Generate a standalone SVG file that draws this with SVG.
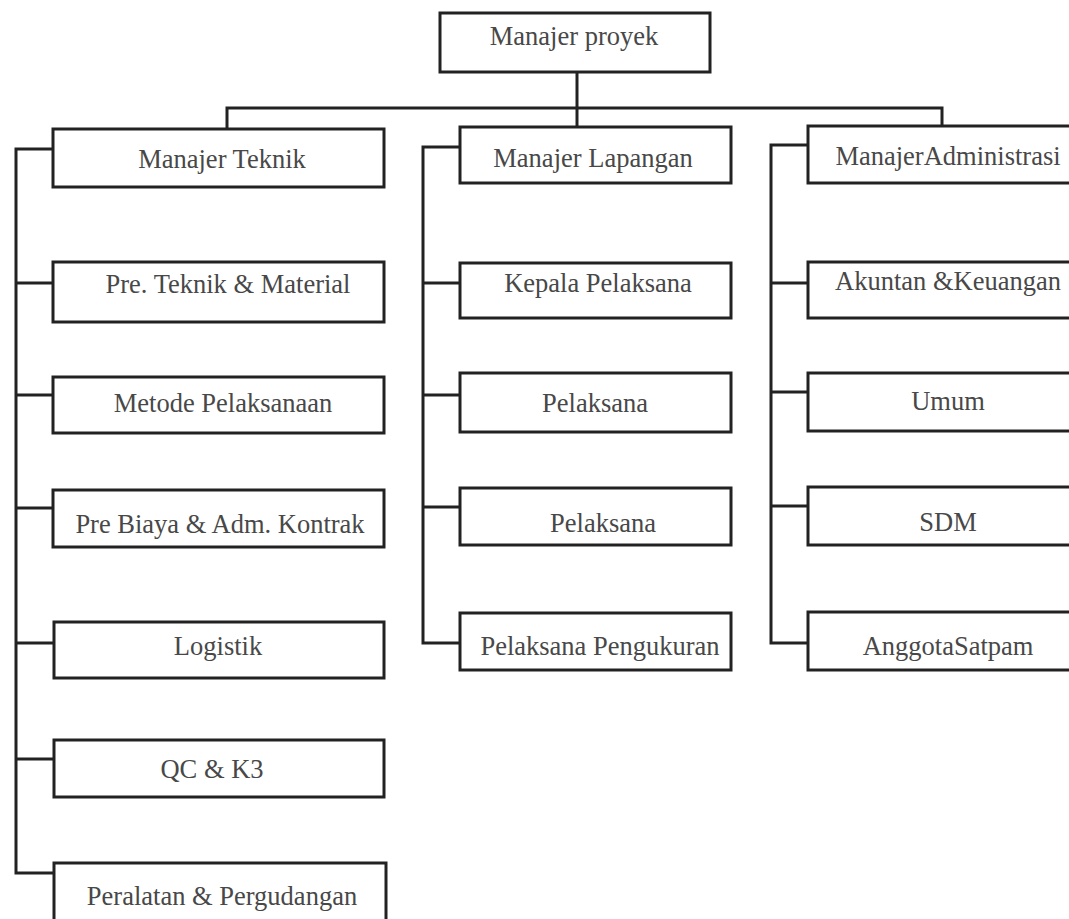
<svg xmlns="http://www.w3.org/2000/svg" width="1069" height="919" viewBox="0 0 1069 919">
<style>
.box{fill:#fff;stroke:#222;stroke-width:3}
.lbl{font-family:"Liberation Serif","Times New Roman",serif;font-size:26.5px;fill:#484848;text-anchor:middle}
.con{fill:none;stroke:#222;stroke-width:3}
</style>
<rect width="1069" height="919" fill="#fff"/>
<g id="connectors">
<path class="con" d="M577,72 V127"/>
<path class="con" d="M227,129 V108 H942 V126"/>
<path class="con" d="M53,149 H16 V873 H54"/>
<path class="con" d="M16,283 H53 M16,395 H53 M16,508 H53 M16,643 H53 M16,759 H53"/>
<path class="con" d="M460,147 H423 V643 H460"/>
<path class="con" d="M423,283 H460 M423,395 H460 M423,507 H460"/>
<path class="con" d="M808,145 H771 V643 H808"/>
<path class="con" d="M771,283 H808 M771,392 H808 M771,506 H808"/>
</g>
<g id="n-proyek"><rect class="box" x="440" y="13" width="270" height="59"/><text class="lbl" x="574" y="45">Manajer proyek</text></g>
<g id="n-teknik"><rect class="box" x="53" y="129" width="331" height="58"/><text class="lbl" x="222" y="168">Manajer Teknik</text></g>
<g id="n-lapangan"><rect class="box" x="460" y="127" width="271" height="56"/><text class="lbl" x="593" y="167">Manajer Lapangan</text></g>
<g id="n-admin"><rect class="box" x="808" y="126" width="275" height="57"/><text class="lbl" x="948" y="165">ManajerAdministrasi</text></g>
<g id="n-pre-teknik"><rect class="box" x="53" y="262" width="331" height="60"/><text class="lbl" x="228" y="293">Pre. Teknik &amp; Material</text></g>
<g id="n-metode"><rect class="box" x="53" y="377" width="331" height="56"/><text class="lbl" x="223" y="412">Metode Pelaksanaan</text></g>
<g id="n-biaya"><rect class="box" x="53" y="490" width="331" height="57"/><text class="lbl" x="220" y="533">Pre Biaya &amp; Adm. Kontrak</text></g>
<g id="n-logistik"><rect class="box" x="54" y="622" width="330" height="56"/><text class="lbl" x="218" y="655">Logistik</text></g>
<g id="n-qc"><rect class="box" x="54" y="740" width="330" height="57"/><text class="lbl" x="212" y="778">QC &amp; K3</text></g>
<g id="n-peralatan"><rect class="box" x="54" y="863" width="332" height="70"/><text class="lbl" x="222" y="905">Peralatan &amp; Pergudangan</text></g>
<g id="n-kepala"><rect class="box" x="460" y="263" width="271" height="55"/><text class="lbl" x="598" y="292">Kepala Pelaksana</text></g>
<g id="n-pelaksana1"><rect class="box" x="460" y="373" width="271" height="59"/><text class="lbl" x="595" y="412">Pelaksana</text></g>
<g id="n-pelaksana2"><rect class="box" x="460" y="488" width="271" height="57"/><text class="lbl" x="603" y="532">Pelaksana</text></g>
<g id="n-pengukuran"><rect class="box" x="460" y="613" width="271" height="57"/><text class="lbl" x="600" y="655">Pelaksana Pengukuran</text></g>
<g id="n-akuntan"><rect class="box" x="808" y="262" width="275" height="56"/><text class="lbl" x="948" y="290">Akuntan &amp;Keuangan</text></g>
<g id="n-umum"><rect class="box" x="808" y="373" width="275" height="58"/><text class="lbl" x="948" y="410">Umum</text></g>
<g id="n-sdm"><rect class="box" x="808" y="487" width="275" height="58"/><text class="lbl" x="948" y="531">SDM</text></g>
<g id="n-satpam"><rect class="box" x="808" y="612" width="275" height="58"/><text class="lbl" x="948" y="655">AnggotaSatpam</text></g>
</svg>
